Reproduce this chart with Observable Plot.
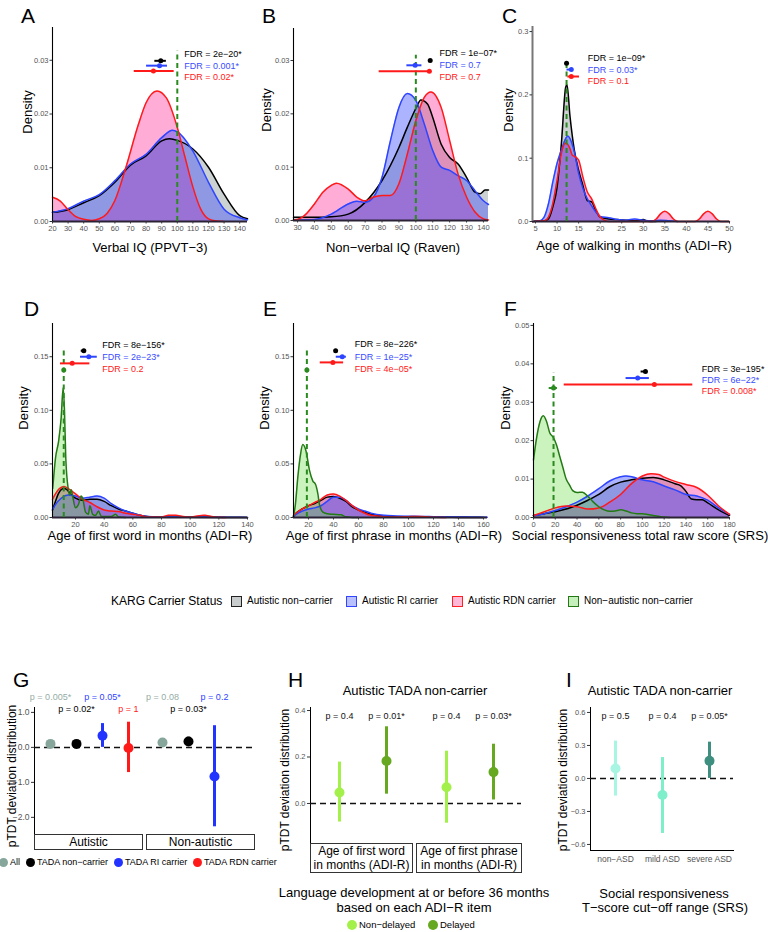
<!DOCTYPE html>
<html><head><meta charset="utf-8">
<script src="https://cdn.jsdelivr.net/npm/d3@7"></script>
<script src="https://cdn.jsdelivr.net/npm/@observablehq/plot@0.6"></script>
<style>
body{margin:0;background:#fff;font-family:"Liberation Sans",Arial,sans-serif;}
#root{position:relative;width:768px;height:932px;overflow:hidden;background:#fff;}
.abs{position:absolute;white-space:nowrap;line-height:1;}
svg{overflow:visible;}
</style></head><body><div id="root"></div>
<script>
// ---------------- DATA ----------------
// Panel A: Verbal IQ (PPVT-3) densities [x, density]
const A_nonCarrier = [[20,0.0017],[30,0.0022],[40,0.0035],[50,0.0048],[60,0.0073],[70,0.0105],[80,0.0122],[90,0.015],[95,0.0154],[100,0.0151],[110,0.0135],[120,0.0101],[130,0.0051],[140,0.0011],[145,0.0005]];
const A_ri = [[20,0.0017],[30,0.0024],[40,0.0038],[50,0.005],[60,0.0076],[70,0.0107],[80,0.0125],[90,0.0156],[97,0.017],[100,0.0167],[110,0.0131],[120,0.0073],[130,0.0023],[140,0.0007],[145,0.0003]];
const A_rdn = [[20,0.0045],[25,0.0038],[30,0.0022],[35,0.0009],[40,0.0004],[45,0.0002],[50,0.0005],[55,0.0015],[60,0.0039],[67,0.01],[75,0.018],[80,0.0221],[87,0.0243],[93,0.023],[100,0.0175],[105,0.0119],[110,0.0064],[115,0.0023],[120,0.0005],[125,0.0001],[130,0]];
const A_barY = [0.0299,0.029,0.028], A_barMid = [89.4,88.6,84.7], A_barLo = [85.6,80.3,72.4], A_barHi = [93,93.7,98];
const A_fdr = ["FDR = 2e\u221220*","FDR = 0.001*","FDR = 0.02*"], A_fdrY = [0.0312,0.029,0.0268];
const A_xTicks = [20,30,40,50,60,70,80,90,100,110,120,130,140], A_yTicks = [0,0.01,0.02,0.03];

// Panel B: Non-verbal IQ (Raven)
const B_nonCarrier = [[27.6,0.0006],[40,0.0006],[50,0.0007],[60,0.0012],[70,0.0034],[80,0.0075],[90,0.0137],[95,0.0175],[100,0.021],[103,0.0226],[107,0.0218],[110,0.0193],[115,0.0143],[120,0.0118],[125,0.0106],[130,0.0081],[135,0.0053],[138,0.005],[141,0.0057],[143,0.0057]];
const B_ri = [[27.6,0.0001],[40,0.0002],[50,0.0012],[60,0.0031],[65,0.0036],[70,0.0034],[75,0.0044],[80,0.0081],[85,0.015],[90,0.0212],[95,0.0238],[100,0.0225],[105,0.0181],[110,0.0131],[115,0.01],[120,0.0094],[125,0.0084],[130,0.0075],[135,0.0056],[140,0.0037],[143,0.003]];
const B_rdn = [[27.6,0.0001],[30,0.0002],[35,0.0012],[40,0.0031],[45,0.0053],[50,0.0066],[53,0.007],[60,0.0059],[65,0.0044],[70,0.0037],[75,0.0044],[80,0.0047],[85,0.0047],[90,0.0069],[95,0.0125],[100,0.0187],[105,0.0231],[109,0.0241],[115,0.0212],[120,0.015],[125,0.0087],[130,0.0044],[135,0.0016],[140,0.0003],[143,0.0001]];
const B_barY = [0.0300,0.0291,0.028], B_barMid = [108.5,99.6,108], B_barLo = [108,94.7,78.3], B_barHi = [109,103.6,108.9];
const B_fdr = ["FDR = 1e\u221207*","FDR = 0.7","FDR = 0.7"], B_fdrY = [0.0313,0.0291,0.0269];
const B_xTicks = [30,40,50,60,70,80,90,100,110,120,130,140], B_yTicks = [0,0.01,0.02,0.03];

// Panel C: Age of walking
const C_nonCarrier = [[4.3,0],[7,0.001],[8,0.004],[9,0.023],[10,0.054],[11,0.123],[12,0.212],[12.3,0.216],[13,0.166],[14,0.113],[15,0.081],[16,0.057],[17,0.033],[18,0.031],[19,0.017],[20,0.007],[22,0.004],[24,0.003],[26,0.002],[28,0.001],[30,0.003],[31,0.0005],[33,0]];
const C_ri = [[4.3,0],[6,0.001],[7,0.007],[8,0.028],[9,0.062],[10,0.092],[11,0.113],[12,0.131],[12.5,0.135],[13,0.131],[14,0.11],[15,0.076],[16,0.052],[17,0.036],[18,0.025],[19,0.015],[20,0.008],[22,0.006],[24,0.003],[26,0.002],[28,0.004],[30,0.002],[32,0.001],[34,0.002],[36,0.001],[38,0]];
const C_rdn = [[4.3,0],[7,0.001],[8,0.007],[9,0.028],[10,0.065],[11,0.108],[12,0.124],[13,0.115],[13.5,0.105],[14,0.103],[15,0.097],[16,0.07],[17,0.047],[18,0.036],[19,0.02],[20,0.007],[21,0.002],[22,0],[32,0],[33,0.004],[34,0.012],[35,0.016],[36,0.012],[37,0.004],[38,0],[42,0],[43,0.004],[44,0.012],[45,0.016],[46,0.012],[47,0.004],[48,0],[50,0]];
const C_barY = [0.25,0.24,0.229], C_barMid = [12.2,13.3,13.3], C_barLo = [12,12.3,12.5], C_barHi = [12.4,13.7,15.2];
const C_fdr = ["FDR = 1e\u221209*","FDR = 0.03*","FDR = 0.1"], C_fdrY = [0.258,0.2397,0.222];
const C_xTicks = [5,10,15,20,25,30,35,40,45,50], C_yTicks = [0,0.1,0.2,0.3];

// Panel D: Age of first word
const D_nonCarrier = [[3.95,0.007],[6,0.015],[8,0.022],[10,0.026],[12,0.027],[14,0.026],[16,0.023],[18,0.02],[20,0.018],[25,0.016],[30,0.017],[35,0.017],[40,0.015],[45,0.011],[50,0.008],[55,0.006],[60,0.004],[65,0.002],[70,0.001],[80,0.0005],[100,0.0002],[140,0]];
const D_ri = [[3.95,0.007],[6,0.012],[10,0.018],[15,0.021],[20,0.02],[25,0.018],[30,0.019],[35,0.02],[40,0.018],[45,0.013],[50,0.009],[55,0.006],[60,0.004],[65,0.002],[70,0.001],[80,0.0007],[90,0.0006],[100,0.0005],[110,0.0007],[120,0.0004],[130,0.0002],[140,0.0001]];
const D_rdn = [[3.95,0.017],[6,0.022],[8,0.026],[10,0.028],[12,0.029],[15,0.027],[20,0.022],[25,0.017],[30,0.014],[35,0.01],[40,0.007],[45,0.006],[50,0.0055],[55,0.004],[60,0.003],[65,0.002],[70,0.0005],[80,0.0005],[85,0.002],[90,0.002],[95,0.001],[100,0.0005],[105,0.0015],[110,0.002],[115,0.001],[120,0.0002],[125,0]];
const D_nonAutistic = [[4.1,0.027],[6,0.055],[8.3,0.072],[10,0.093],[11.4,0.121],[12.3,0.1],[13.2,0.056],[14.9,0.027],[16,0.021],[17,0.026],[18,0.02],[20,0.009],[22,0.012],[24,0.02],[25,0.018],[27,0.005],[29,0.003],[30,0.011],[32,0.003],[34,0.002],[36,0.006],[38,0.001],[45,0.001],[48,0.003],[50,0.0005],[55,0]];
const D_barY = [0.1556,0.15,0.1438,0.1375], D_barMid = [25.8,29.3,17.7,11.8], D_barLo = [24,23.5,9.5,11.3], D_barHi = [27.7,35.2,30,12.3];
const D_fdr = ["FDR = 8e\u2212156*","FDR = 2e\u221223*","FDR = 0.2"], D_fdrY = [0.1609,0.15,0.1385];
const D_xTicks = [20,40,60,80,100,120,140], D_yTicks = [0,0.05,0.1,0.15];

// Panel E: Age of first phrase
const E_nonCarrier = [[8,0.001],[10,0.004],[15,0.008],[20,0.011],[25,0.013],[30,0.016],[35,0.019],[40,0.0196],[45,0.018],[50,0.015],[55,0.01],[60,0.007],[65,0.005],[70,0.003],[80,0.0015],[90,0.0008],[100,0.0008],[110,0.0008],[120,0.0005],[130,0.0002],[140,0.0001],[160,0]];
const E_ri = [[8,0.001],[10,0.003],[15,0.006],[20,0.008],[25,0.009],[30,0.011],[35,0.015],[40,0.019],[45,0.019],[50,0.016],[55,0.011],[60,0.008],[65,0.006],[70,0.004],[80,0.002],[90,0.0015],[100,0.0012],[110,0.001],[120,0.0008],[130,0.0007],[140,0.0008],[150,0.0005],[160,0.0003],[163,0.0002]];
const E_rdn = [[8,0.002],[10,0.004],[15,0.008],[20,0.011],[25,0.014],[30,0.017],[35,0.021],[40,0.022],[45,0.02],[50,0.016],[55,0.011],[60,0.007],[65,0.004],[70,0.002],[80,0.0008],[90,0.0005],[100,0.0008],[110,0.001],[115,0.0006],[120,0.0002],[130,0]];
const E_nonAutistic = [[8,0.001],[9.5,0.012],[11.4,0.037],[13.5,0.058],[15.4,0.068],[18,0.062],[20.8,0.044],[23.5,0.034],[25.6,0.031],[27.5,0.022],[28.8,0.012],[31.5,0.005],[35,0.0035],[39.5,0.003],[46,0.0025],[50,0.0006],[55,0.0001],[60,0]];
const E_barY = [0.1556,0.15,0.1447,0.1375], E_barMid = [41.7,47,39.5,18.7], E_barLo = [41.2,42.2,29.4,18.3], E_barHi = [42.2,50.3,48.1,19.1];
const E_fdr = ["FDR = 8e\u2212226*","FDR = 1e\u221225*","FDR = 4e\u221205*"], E_fdrY = [0.1618,0.15,0.1385];
const E_xTicks = [20,40,60,80,100,120,140,160], E_yTicks = [0,0.05,0.1,0.15];

// Panel F: SRS total raw score
const F_nonCarrier = [[0,0.0005],[10,0.001],[20,0.0015],[30,0.0022],[40,0.0032],[50,0.0045],[60,0.006],[70,0.008],[80,0.0092],[90,0.0098],[100,0.0102],[110,0.0104],[120,0.0098],[130,0.0088],[135,0.0083],[140,0.0068],[145,0.0048],[150,0.0046],[155,0.0046],[160,0.0038],[170,0.002],[180,0.0005]];
const F_ri = [[0,0.0005],[10,0.001],[20,0.0018],[30,0.0028],[40,0.004],[50,0.0056],[60,0.0075],[70,0.0095],[80,0.0106],[85,0.0108],[90,0.0106],[100,0.0098],[110,0.0093],[120,0.0082],[130,0.0072],[140,0.006],[150,0.0056],[160,0.0045],[170,0.0025],[180,0.0008]];
const F_rdn = [[0,0.0005],[10,0.0015],[20,0.0025],[30,0.003],[40,0.0028],[50,0.0022],[60,0.0025],[70,0.004],[80,0.006],[90,0.0088],[100,0.0108],[108,0.0114],[115,0.0112],[120,0.0105],[130,0.0094],[140,0.0086],[150,0.0078],[160,0.0058],[170,0.003],[180,0.0008]];
const F_nonAutistic = [[0,0.015],[3,0.021],[6,0.025],[9,0.0265],[12,0.025],[15,0.022],[18,0.0209],[21,0.019],[24,0.016],[27,0.013],[30,0.01],[33,0.0085],[36,0.007],[40,0.0065],[45,0.0066],[50,0.0055],[55,0.004],[60,0.0028],[65,0.002],[70,0.0016],[75,0.0017],[80,0.002],[85,0.0017],[90,0.0012],[95,0.001],[100,0.001],[105,0.0008],[110,0.0005],[115,0.0003],[120,0.0001],[125,0]];
const F_barY = [0.038,0.0363,0.0346,0.0337], F_barMid = [102.8,95.7,111,18.4], F_barLo = [98.8,85,28.2,14.4], F_barHi = [104,106.4,146.3,22];
const F_fdr = ["FDR = 3e\u2212195*","FDR = 6e\u221222*","FDR = 0.008*"], F_fdrY = [0.0387,0.0358,0.033];
const F_xTicks = [0,20,40,60,80,100,120,140,160,180], F_yTicks = [0,0.01,0.02,0.03,0.04,0.05];

const legendLabels = ["Autistic non\u2212carrier","Autistic RI carrier","Autistic RDN carrier","Non\u2212autistic non\u2212carrier"];

// Panel G
const G_facets = ["Autistic","Non-autistic"];
const G_groups = ["All","TADA non\u2212carrier","TADA RI carrier","TADA RDN carrier"];
const G_facet = ["Autistic","Autistic","Autistic","Autistic","Non-autistic","Non-autistic","Non-autistic"];
const G_group = ["All","TADA non\u2212carrier","TADA RI carrier","TADA RDN carrier","All","TADA non\u2212carrier","TADA RI carrier"];
const G_est = [0.1,0.1,0.33,-0.02,0.14,0.17,-0.83];
const G_lo = [0.02,0.04,0.0,-0.72,0.04,0.06,-2.27];
const G_hi = [0.18,0.16,0.68,0.72,0.24,0.29,0.62];
const G_p = ["p = 0.005*","p = 0.02*","p = 0.05*","p = 1","p = 0.08","p = 0.03*","p = 0.2"];
const G_pRow = [1,2,1,2,1,2,1];
const G_yTicks = [-2,-1,0,1];

// Panel H
const H_facets = ["first word","first phrase"];
const H_stripText = [["Age of first word","in months (ADI-R)"],["Age of first phrase","in months (ADI-R)"]];
const H_groups = ["Non-delayed","Delayed"];
const H_facet = ["first word","first word","first phrase","first phrase"];
const H_group = ["Non-delayed","Delayed","Non-delayed","Delayed"];
const H_est = [0.047,0.183,0.07,0.135];
const H_lo = [-0.08,0.04,-0.085,0.015];
const H_hi = [0.178,0.33,0.225,0.255];
const H_p = ["p = 0.4","p = 0.01*","p = 0.4","p = 0.03*"];
const H_yTicks = [0,0.2,0.4];

// Panel I
const I_groups = ["non\u2212ASD","mild ASD","severe ASD"];
const I_est = [0.09,-0.15,0.16];
const I_lo = [-0.16,-0.5,0.0];
const I_hi = [0.34,0.19,0.33];
const I_p = ["p = 0.5","p = 0.4","p = 0.05*"];
const I_yTicks = [-0.6,-0.3,0,0.3,0.6];

// ---------------- STYLE ----------------
const FONT = "Liberation Sans, Arial, sans-serif";
const STY = {
  nc:  {fill:"#9aa3a3", op:0.5,  stroke:"#000000"},
  ri:  {fill:"#3344ff", op:0.4,  stroke:"#2e45ff"},
  rdn: {fill:"#ff3399", op:0.4,  stroke:"#ff1a1a"},
  na:  {fill:"#66dd44", op:0.35, stroke:"#237a14"}
};
const BAR_COLORS = ["#000000","#2e45ff","#ff1a1a","#2a8a1f"];
const FDR_COLORS = ["#000000","#3a4cff","#ff2020"];
const G_colors = {"All":"#86a69b","TADA non\u2212carrier":"#000000","TADA RI carrier":"#2233ff","TADA RDN carrier":"#ff1a1a"};
const G_pColors = {"All":"#95ada5","TADA non\u2212carrier":"#000000","TADA RI carrier":"#2f44ff","TADA RDN carrier":"#ff2020"};
const H_colors = {"Non-delayed":"#a3f04a","Delayed":"#66a820"};
const I_colors = {"non\u2212ASD":"#a8f5e4","mild ASD":"#7eeecb","severe ASD":"#3f8f80"};

const root = document.getElementById("root");
function mount(svg, left, top){ svg.style.position="absolute"; svg.style.left=left+"px"; svg.style.top=top+"px"; root.appendChild(svg); }
function addText(str, x, y, o={}){
  const d=document.createElement("div"); d.className="abs"; d.textContent=str;
  d.style.left=x+"px"; d.style.top=y+"px"; d.style.fontSize=(o.size||13)+"px"; d.style.color=o.color||"#000";
  const a=o.anchor||"middle"; const tx=a==="middle"?"-50%":a==="end"?"-100%":"0";
  d.style.transform=`translate(${tx},-50%)`+(o.rotate?` rotate(${o.rotate}deg)`:"");
  root.appendChild(d); return d;
}
function addBox(x,y,w,h,css){ const d=document.createElement("div"); d.className="abs"; Object.assign(d.style,{left:x+"px",top:y+"px",width:w+"px",height:h+"px",boxSizing:"border-box"},css); root.appendChild(d); return d; }

function densityPanel(p){
  const ml=50, mr=60, mt=20, mb=22;
  const W=p.x1-p.x0, H=p.y1-p.y0;
  const bars=p.barY.map((y,i)=>({y, m:p.barMid[i], lo:p.barLo[i], hi:p.barHi[i], c:BAR_COLORS[i]}));
  const labels=p.fdr.map((t,i)=>({t, y:p.fdrY[i], c:FDR_COLORS[i]}));
  const areaOrder=["nc","rdn","ri","na"].filter(k=>p.series[k]);
  const lineOrder=["nc","ri","rdn","na"].filter(k=>p.series[k]);
  const svg=Plot.plot({
    width:W+ml+mr, height:H+mt+mb, marginLeft:ml, marginRight:mr, marginTop:mt, marginBottom:mb,
    style:{fontFamily:FONT, background:"transparent", overflow:"visible"},
    x:{domain:p.xDomain}, y:{domain:p.yDomain},
    marks:[
      ...areaOrder.map(k=>Plot.areaY(p.series[k],{x:d=>d[0],y:d=>d[1],fill:STY[k].fill,fillOpacity:STY[k].op,curve:"monotone-x"})),
      ...lineOrder.map(k=>Plot.lineY(p.series[k],{x:d=>d[0],y:d=>d[1],stroke:STY[k].stroke,strokeWidth:1.5,curve:"monotone-x"})),
      Plot.ruleY([0],{stroke:"#2b2236",strokeWidth:1.8}),
      Plot.ruleX([p.xDomain[0]],{stroke:p.axisColor||"#000",strokeWidth:p.axisWidth||1.1}),
      Plot.ruleX([p.vx],{y1:0,y2:p.vtop,stroke:"#2a8a1f",strokeWidth:2,strokeDasharray:"5,3.5"}),
      Plot.ruleY(bars,{y:"y",x1:"lo",x2:"hi",stroke:"c",strokeWidth:2}),
      Plot.dot(bars,{x:"m",y:"y",fill:"c",r:2.5}),
      Plot.text(labels,{x:p.fdrX,y:"y",text:"t",fill:"c",textAnchor:"start",fontSize:9}),
      Plot.axisX({ticks:p.xTicks,tickSize:2.5,tickPadding:1.5,fontSize:7.5,fill:"#555",stroke:"#333",label:null}),
      Plot.axisY({ticks:p.yTicks,tickFormat:d3.format(p.yFmt),tickSize:2.5,tickPadding:1.5,fontSize:7.5,fill:"#555",stroke:"#333",label:null})
    ]
  });
  mount(svg,p.x0-ml,p.y0-mt);
  addText(p.letter,p.letterX,p.letterY,{size:21,anchor:"start"});
  addText(p.xTitle,p.xTitleX,p.xTitleY,{size:13});
  addText("Density",p.densX,p.densY,{size:13,rotate:-90});
}

densityPanel({letter:"A",letterX:21,letterY:15,x0:52,x1:247,y0:27,y1:221,xDomain:[20,145],yDomain:[0,0.0361],xTicks:A_xTicks,yTicks:A_yTicks,yFmt:".2f",
  series:{nc:A_nonCarrier,ri:A_ri,rdn:A_rdn},vx:100,vtop:0.0317,barY:A_barY,barMid:A_barMid,barLo:A_barLo,barHi:A_barHi,fdr:A_fdr,fdrY:A_fdrY,fdrX:104.4,
  xTitle:"Verbal IQ (PPVT\u22123)",xTitleX:150,xTitleY:247,densX:27,densY:112});
densityPanel({letter:"B",letterX:262,letterY:15,x0:293,x1:488,y0:28,y1:220,xDomain:[27.6,143],yDomain:[0,0.036],xTicks:B_xTicks,yTicks:B_yTicks,yFmt:".2f",
  series:{nc:B_nonCarrier,ri:B_ri,rdn:B_rdn},vx:100,vtop:0.031,barY:B_barY,barMid:B_barMid,barLo:B_barLo,barHi:B_barHi,fdr:B_fdr,fdrY:B_fdrY,fdrX:114,
  xTitle:"Non\u2212verbal IQ (Raven)",xTitleX:393,xTitleY:247,densX:266,densY:110});
densityPanel({letter:"C",letterX:502,letterY:15,x0:532,x1:729,y0:26,y1:221,xDomain:[4.3,50],yDomain:[0,0.308],xTicks:C_xTicks,yTicks:C_yTicks,yFmt:".1f",axisColor:"#777",axisWidth:2,
  series:{nc:C_nonCarrier,ri:C_ri,rdn:C_rdn},vx:12.2,vtop:0.251,barY:C_barY,barMid:C_barMid,barLo:C_barLo,barHi:C_barHi,fdr:C_fdr,fdrY:C_fdrY,fdrX:17.1,
  xTitle:"Age of walking in months (ADI\u2212R)",xTitleX:634,xTitleY:245,densX:508,densY:110});
densityPanel({letter:"D",letterX:24,letterY:308,x0:52,x1:247,y0:323,y1:517,xDomain:[3.95,140],yDomain:[0,0.181],xTicks:D_xTicks,yTicks:D_yTicks,yFmt:".2f",
  series:{nc:D_nonCarrier,ri:D_ri,rdn:D_rdn,na:D_nonAutistic},vx:11.8,vtop:0.158,barY:D_barY,barMid:D_barMid,barLo:D_barLo,barHi:D_barHi,fdr:D_fdr,fdrY:D_fdrY,fdrX:38.6,
  xTitle:"Age of first word in months (ADI\u2212R)",xTitleX:150,xTitleY:535,densX:23,densY:408});
densityPanel({letter:"E",letterX:263,letterY:308,x0:293,x1:487,y0:323,y1:517,xDomain:[8,163.2],yDomain:[0,0.181],xTicks:E_xTicks,yTicks:E_yTicks,yFmt:".2f",
  series:{nc:E_nonCarrier,ri:E_ri,rdn:E_rdn,na:E_nonAutistic},vx:18.7,vtop:0.158,barY:E_barY,barMid:E_barMid,barLo:E_barLo,barHi:E_barHi,fdr:E_fdr,fdrY:E_fdrY,fdrX:57,
  xTitle:"Age of first phrase in months (ADI\u2212R)",xTitleX:394,xTitleY:535,densX:264,densY:408});
densityPanel({letter:"F",letterX:504,letterY:308,x0:533,x1:729,y0:323,y1:517,xDomain:[0,180],yDomain:[0,0.0505],xTicks:F_xTicks,yTicks:F_yTicks,yFmt:".2f",
  series:{nc:F_nonCarrier,ri:F_ri,rdn:F_rdn,na:F_nonAutistic},vx:18.4,vtop:0.0377,barY:F_barY,barMid:F_barMid,barLo:F_barLo,barHi:F_barHi,fdr:F_fdr,fdrY:F_fdrY,fdrX:154.6,
  xTitle:"Social responsiveness total raw score (SRS)",xTitleX:640,xTitleY:535,densX:505,densY:408});

// density legend
addText("KARG Carrier Status",111,601,{size:12,anchor:"start"});
const legBoxX=[231,346,452,568];
const legFill=["#c8cccc","#b8c0ff","#ffb8d8","#c6f0bb"], legStroke=["#222","#3344ff","#ff2020","#237a14"];
legendLabels.forEach((t,i)=>{
  addBox(legBoxX[i],596,11,11,{background:legFill[i],border:"1.5px solid "+legStroke[i]});
  addText(t,legBoxX[i]+16,601,{size:10,anchor:"start"});
});

// ---------------- PANEL G ----------------
const gRows=G_group.map((g,i)=>({f:G_facet[i],g,est:G_est[i],lo:G_lo[i],hi:G_hi[i],p:G_p[i],py:G_pRow[i]===1?1.43:1.09}));
const gSvg=Plot.plot({
  width:258,height:146,marginLeft:34,marginRight:3,marginTop:17,marginBottom:2,
  style:{fontFamily:FONT,background:"transparent",overflow:"visible"},
  fx:{domain:G_facets,paddingInner:0.027,paddingOuter:0,axis:null},
  x:{type:"point",domain:G_groups,padding:0.58,axis:null},
  y:{domain:[-2.49,1.14]},
  marks:[
    Plot.frame({anchor:"left",facetAnchor:"left",stroke:"#000"}),
    Plot.axisY({ticks:G_yTicks,tickSize:3,tickPadding:2,fontSize:8.5,fill:"#555",stroke:"#333",label:null}),
    Plot.ruleY([0],{stroke:"#111",strokeWidth:1.5,strokeDasharray:"6,4"}),
    Plot.ruleX(gRows,{fx:"f",x:"g",y1:"lo",y2:"hi",stroke:d=>G_colors[d.g],strokeWidth:3}),
    Plot.dot(gRows,{fx:"f",x:"g",y:"est",fill:d=>G_colors[d.g],r:5}),
    Plot.text(gRows,{fx:"f",x:"g",y:"py",text:"p",fill:d=>G_pColors[d.g],fontSize:9})
  ]
});
mount(gSvg,0,690);
addText("G",13,679,{size:21,anchor:"start"});
addText("pTDT deviation distribution",12,776,{size:12,rotate:-90});
addBox(34,834,109,16,{border:"1px solid #333"}); addText("Autistic",88.5,842,{size:12});
addBox(146,834,109,16,{border:"1px solid #333"}); addText("Non-autistic",200.5,842,{size:12});
const gLegX=[3,30,118,197];
G_groups.forEach((g,i)=>{
  addBox(gLegX[i]-4.5,857.5,9,9,{background:G_colors[g],borderRadius:"50%"});
  addText(g,gLegX[i]+7,862,{size:9,anchor:"start"});
});

// ---------------- PANEL H ----------------
const hRows=H_group.map((g,i)=>({f:H_facet[i],g,est:H_est[i],lo:H_lo[i],hi:H_hi[i],p:H_p[i]}));
const hSvg=Plot.plot({
  width:245,height:144,marginLeft:30,marginRight:3,marginTop:7,marginBottom:2,
  style:{fontFamily:FONT,background:"transparent",overflow:"visible"},
  fx:{domain:H_facets,paddingInner:0.028,paddingOuter:0,axis:null},
  x:{type:"point",domain:H_groups,padding:0.59,axis:null},
  y:{domain:[-0.168,0.413]},
  marks:[
    Plot.frame({anchor:"left",facetAnchor:"left",stroke:"#000"}),
    Plot.axisY({ticks:H_yTicks,tickFormat:d3.format(".1f"),tickSize:3,tickPadding:2,fontSize:7.5,fill:"#555",stroke:"#333",label:null}),
    Plot.ruleY([0],{stroke:"#111",strokeWidth:1.5,strokeDasharray:"6,4"}),
    Plot.ruleX(hRows,{fx:"f",x:"g",y1:"lo",y2:"hi",stroke:d=>H_colors[d.g],strokeWidth:3}),
    Plot.dot(hRows,{fx:"f",x:"g",y:"est",fill:d=>H_colors[d.g],r:5}),
    Plot.text(hRows,{fx:"f",x:"g",y:0.374,text:"p",fill:"#111",fontSize:9})
  ]
});
mount(hSvg,280,700);
addText("H",288,679,{size:21,anchor:"start"});
addText("Autistic TADA non-carrier",415,690,{size:13});
addText("pTDT deviation distribution",285,780,{size:12,rotate:-90});
[[310,103],[416,106]].forEach(([x,w],i)=>{
  addBox(x,843,w,30,{border:"1px solid #333"});
  addText(H_stripText[i][0],x+w/2,850.5,{size:12});
  addText(H_stripText[i][1],x+w/2,865,{size:12});
});
addText("Language development at or before 36 months",414,892,{size:13});
addText("based on each ADI\u2212R item",414,907,{size:13});
const hLegX=[352,433], hLegLab=["Non\u2212delayed","Delayed"];
H_groups.forEach((g,i)=>{
  addBox(hLegX[i]-5,920,10,10,{background:H_colors[g],borderRadius:"50%"});
  addText(hLegLab[i],hLegX[i]+7,925,{size:9.5,anchor:"start"});
});

// ---------------- PANEL I ----------------
const iRows=I_groups.map((g,i)=>({g,est:I_est[i],lo:I_lo[i],hi:I_hi[i],p:I_p[i]}));
const iSvg=Plot.plot({
  width:196,height:164,marginLeft:50,marginRight:3,marginTop:7,marginBottom:14,
  style:{fontFamily:FONT,background:"transparent",overflow:"visible"},
  x:{type:"point",domain:I_groups,padding:0.5},
  y:{domain:[-0.655,0.645]},
  marks:[
    Plot.frame({anchor:"left",stroke:"#000"}),
    Plot.frame({anchor:"bottom",stroke:"#000"}),
    Plot.axisY({ticks:I_yTicks,tickFormat:d3.format(".1f"),tickSize:3,tickPadding:2,fontSize:7.5,fill:"#555",stroke:"#333",label:null}),
    Plot.axisX({tickSize:0,tickPadding:5,fontSize:8.5,fill:"#555",label:null}),
    Plot.ruleY([0],{stroke:"#111",strokeWidth:1.5,strokeDasharray:"6,4"}),
    Plot.ruleX(iRows,{x:"g",y1:"lo",y2:"hi",stroke:d=>I_colors[d.g],strokeWidth:3}),
    Plot.dot(iRows,{x:"g",y:"est",fill:d=>I_colors[d.g],r:5}),
    Plot.text(iRows,{x:"g",y:0.564,text:"p",fill:"#111",fontSize:9})
  ]
});
mount(iSvg,540,700);
addText("I",566,679,{size:21,anchor:"start"});
addText("Autistic TADA non-carrier",660,690,{size:13});
addText("pTDT deviation distribution",563,780,{size:12,rotate:-90});
addText("Social responsiveness",664,893,{size:13});
addText("T\u2212score cut\u2212off range (SRS)",665,907,{size:13});
</script></body></html>
